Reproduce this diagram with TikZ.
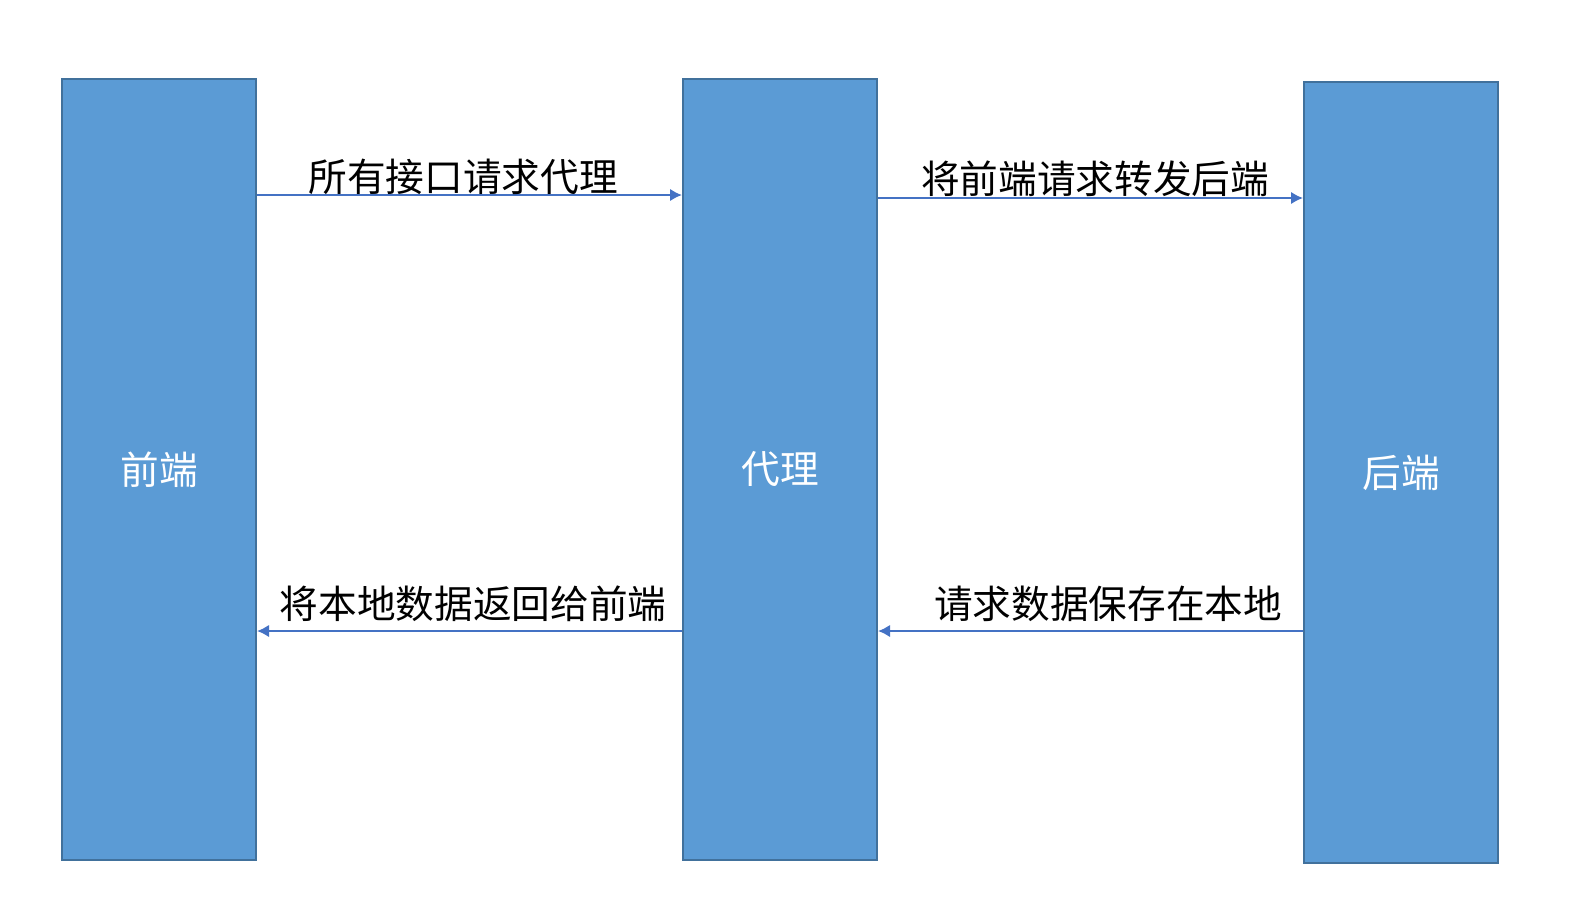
\documentclass[tikz,border=0pt]{standalone}
\usepackage{fontspec}
\newfontfamily\cjk{Noto Sans CJK SC}
\usetikzlibrary{arrows.meta}
\definecolor{boxfill}{HTML}{5B9BD5}
\definecolor{boxline}{HTML}{41719C}
\definecolor{arrowblue}{HTML}{4472C4}

\begin{document}
\begin{tikzpicture}[x=0.75pt,y=-0.75pt,
			party/.style={draw=boxline,fill=boxfill,line width=1.5pt,minimum width=145.5pt,minimum height=585.75pt,inner sep=0pt,text=white,font=\cjk\fontsize{29}{35}\selectfont},
			msg/.style={draw=arrowblue,line width=2pt,-{Latex[length=9pt,width=9.5pt]}},
			msg label/.style={anchor=base,inner sep=0pt,font=\cjk\fontsize{29}{35}\selectfont}]
			\useasboundingbox (0,0) rectangle (1573,903);
			\node[party] (front) at (159,469.5) {\raisebox{-1.5pt}{前端}};
			\node[party] (proxy) at (780,469.5) {\raisebox{-1.5pt}{代理}};
			\node[party] (back) at (1401,472.5) {\raisebox{-1.5pt}{后端}};
			\draw[msg] (front.east |- 0,195) -- (proxy.west |- 0,195);
			\draw[msg] (proxy.east |- 0,198) -- (back.west |- 0,198);
			\draw[msg] (proxy.west |- 0,631) -- (front.east |- 0,631);
			\draw[msg] (back.west |- 0,631) -- (proxy.east |- 0,631);
			\node[msg label] (ask) at (463,191) {所有接口请求代理};
			\node[msg label] (pass) at (1095,193) {将前端请求转发后端};
			\node[msg label] (reply) at (473,618) {将本地数据返回给前端};
			\node[msg label] (store) at (1108,618) {请求数据保存在本地};
		\end{tikzpicture}
\end{document}
